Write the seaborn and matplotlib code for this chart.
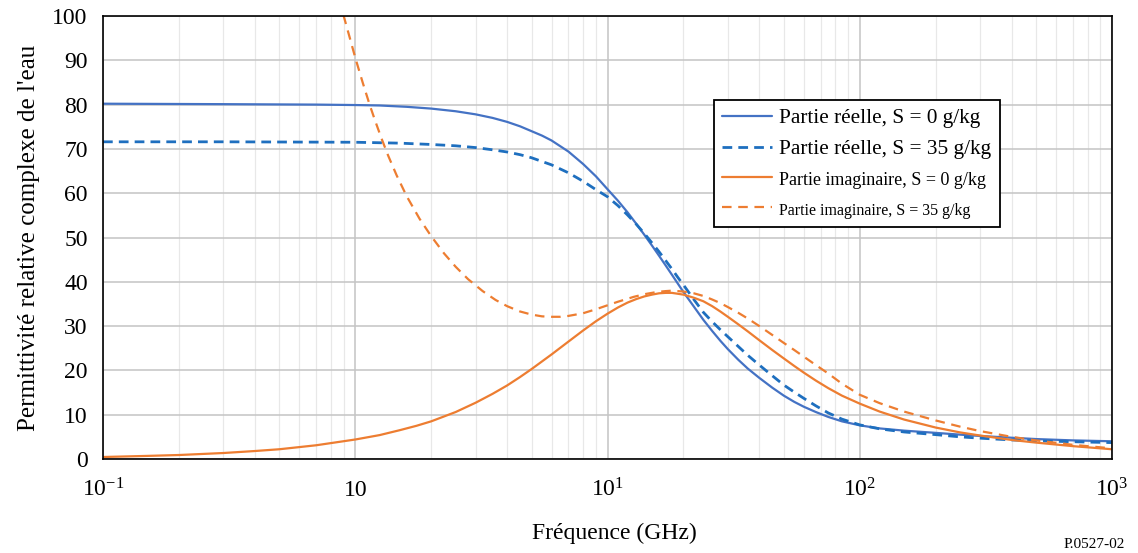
import matplotlib
matplotlib.use("Agg")
import matplotlib.pyplot as plt
import seaborn as sns
import numpy as np
from matplotlib.ticker import FixedLocator, FixedFormatter, LogLocator, NullFormatter, MultipleLocator

# ---------------- data ----------------
freq_real_s0 = [0.1, 0.3, 0.7, 1.0, 1.25, 1.6, 2.0, 2.5, 3.0, 3.5, 4.0, 4.5, 5.0, 5.5, 6.0, 7.0,
                8.0, 9.0, 10, 11, 12, 13, 14, 15, 16, 17, 18, 19, 20, 22, 24, 26, 28, 30, 33,
                36, 40, 45, 50, 55, 60, 67, 75, 85, 100, 120, 150, 200, 250, 300, 400, 500,
                700, 1000]
real_s0 = [80.2, 80.1, 80.0, 79.9, 79.8, 79.5, 79.1, 78.5, 77.8, 77.0, 76.1, 75.1, 74.0, 73.0,
           71.9, 69.4, 66.6, 63.8, 60.9, 58.3, 55.7, 53.1, 50.6, 48.2, 45.9, 43.7, 41.6, 39.6,
           37.7, 34.4, 31.4, 28.9, 26.7, 24.8, 22.4, 20.4, 18.3, 16.1, 14.3, 12.9, 11.8, 10.6,
           9.5, 8.5, 7.6, 6.9, 6.4, 5.9, 5.5, 5.2, 4.8, 4.5, 4.2, 4.0]

freq_real_s35 = [0.1, 0.3, 1.0, 1.5, 2.0, 2.5, 3.0, 3.5, 4.0, 4.5, 5.0, 6.0, 7.0, 8.0, 9.0, 10,
                 11, 12, 13, 14, 15, 16, 17, 18, 19, 20, 22, 24, 26, 28, 30, 33, 36, 40, 45,
                 50, 55, 60, 67, 75, 85, 100, 120, 150, 200, 250, 300, 400, 500, 700, 1000]
real_s35 = [71.6, 71.6, 71.5, 71.3, 71.0, 70.7, 70.3, 69.8, 69.3, 68.7, 68.0, 66.4, 64.6, 62.7,
            60.8, 59.2, 57.2, 55.1, 53.0, 50.9, 48.8, 46.8, 44.8, 42.9, 41.0, 39.3, 36.0, 33.1,
            31.0, 29.2, 27.6, 25.4, 23.4, 21.2, 18.8, 16.7, 15.1, 13.7, 12.0, 10.4, 9.0, 7.7,
            6.8, 6.1, 5.5, 5.0, 4.7, 4.3, 4.1, 3.9, 3.7]

freq_imag_s0 = [0.1, 0.15, 0.2, 0.3, 0.4, 0.5, 0.7, 1.0, 1.25, 1.5, 1.75, 2.0, 2.5, 3.0, 3.5,
                4.0, 4.5, 5.0, 6.0, 7.0, 8.0, 9.0, 10, 11, 12, 13, 14, 15, 16, 17, 18, 19, 20,
                22, 24, 26, 28, 30, 33, 36, 40, 45, 50, 55, 60, 67, 75, 85, 100, 120, 150, 200,
                250, 300, 400, 500, 700, 1000]
imag_s0 = [0.45, 0.7, 0.9, 1.35, 1.8, 2.2, 3.1, 4.4, 5.4, 6.5, 7.5, 8.5, 10.6, 12.7, 14.7, 16.6,
           18.5, 20.3, 23.6, 26.5, 29.0, 31.1, 32.8, 34.2, 35.3, 36.1, 36.7, 37.1, 37.4, 37.5,
           37.5, 37.3, 37.1, 36.4, 35.6, 34.5, 33.3, 32.1, 30.4, 28.8, 26.8, 24.6, 22.7, 21.0,
           19.5, 17.7, 16.0, 14.3, 12.5, 10.7, 8.9, 7.1, 6.0, 5.3, 4.3, 3.7, 2.9, 2.2]

freq_imag_s35 = [0.8, 0.85, 0.9, 0.95, 1.0, 1.07, 1.14, 1.2, 1.27, 1.35, 1.46, 1.6, 1.8, 2.0,
                 2.25, 2.5, 2.8, 3.2, 3.6, 4.0, 4.5, 5.0, 5.5, 6.0, 6.5, 7.0, 8.0, 9.0, 10, 11,
                 12.7, 14, 15.7, 17, 18, 19, 20, 22, 24, 26, 28, 30, 33, 36, 40, 45, 50, 55, 60,
                 67, 75, 85, 100, 120, 150, 200, 250, 300, 400, 500, 700, 1000]
imag_s35 = [112, 106, 100, 95.2, 90.6, 85.0, 80.0, 76.3, 72.4, 68.5, 64.0, 59.3, 54.2, 50.3,
            46.4, 43.4, 40.6, 37.9, 35.9, 34.5, 33.3, 32.6, 32.2, 32.1, 32.1, 32.3, 32.9, 33.8,
            34.7, 35.5, 36.6, 37.2, 37.7, 37.9, 38.0, 37.9, 37.8, 37.4, 36.8, 36.0, 35.2, 34.3,
            33.0, 31.7, 30.0, 28.0, 26.2, 24.6, 23.1, 21.2, 19.3, 17.0, 14.5, 12.6, 10.7, 8.7,
            7.3, 6.3, 5.0, 4.2, 3.2, 2.4]

legend_labels = ["Partie réelle, S = 0 g/kg", "Partie réelle, S = 35 g/kg",
                 "Partie imaginaire, S = 0 g/kg", "Partie imaginaire, S = 35 g/kg"]
x_tick_values = [0.1, 1, 10, 100, 1000]
x_tick_labels = [r"$10^{-1}$", "10", r"$10^{1}$", r"$10^{2}$", r"$10^{3}$"]
y_tick_values = [0, 10, 20, 30, 40, 50, 60, 70, 80, 90, 100]
x_label = "Fréquence (GHz)"
y_label = "Permittivité relative complexe de l'eau"
figure_code = "P.0527-02"

# ---------------- style ----------------
sns.set_theme(style="white")
plt.rcParams["font.family"] = ["Liberation Serif", "DejaVu Serif"]
plt.rcParams["mathtext.fontset"] = "custom"
plt.rcParams["mathtext.rm"] = "Liberation Serif"
plt.rcParams["mathtext.it"] = "Liberation Serif:italic"
plt.rcParams["mathtext.bf"] = "Liberation Serif:bold"
plt.rcParams["text.color"] = "black"
plt.rcParams["axes.labelcolor"] = "black"

W, H = 1138, 553
fig = plt.figure(figsize=(W / 100, H / 100), dpi=100)
ax = fig.add_axes([103 / W, 1 - 459 / H, (1112 - 103) / W, (459 - 16) / H])

blue = "#4472C4"
blue2 = "#1E6FBF"
orange = "#ED7D31"

sns.lineplot(x=freq_real_s0, y=real_s0, ax=ax, color=blue, lw=1.6,
             estimator=None, sort=False, label=legend_labels[0])
sns.lineplot(x=freq_real_s35, y=real_s35, ax=ax, color=blue2, lw=2.0,
             estimator=None, sort=False, label=legend_labels[1])
ax.lines[-1].set_dashes((3.5, 2.2))
sns.lineplot(x=freq_imag_s0, y=imag_s0, ax=ax, color=orange, lw=1.6,
             estimator=None, sort=False, label=legend_labels[2])
sns.lineplot(x=freq_imag_s35, y=imag_s35, ax=ax, color=orange, lw=1.6,
             estimator=None, sort=False, label=legend_labels[3])
ax.lines[-1].set_dashes((4.3, 3.0))

ax.set_xscale("log")
ax.set_xlim(0.1, 1000)
ax.set_ylim(0, 100)

ax.xaxis.set_major_locator(FixedLocator(x_tick_values))
ax.xaxis.set_major_formatter(FixedFormatter(x_tick_labels))
ax.xaxis.set_minor_locator(LogLocator(base=10, subs=np.arange(2, 10), numticks=30))
ax.xaxis.set_minor_formatter(NullFormatter())
ax.yaxis.set_major_locator(FixedLocator(y_tick_values))
ax.yaxis.set_minor_locator(MultipleLocator(2))

ax.set_axisbelow(True)
ax.grid(which="major", axis="both", color="#C4C4C4", lw=1.1)
ax.grid(which="minor", axis="x", color="#E8E8E8", lw=0.9)

ax.tick_params(axis="both", which="both", direction="in", colors="black",
               labelsize=17, width=1.1)
ax.tick_params(axis="x", which="both", length=5, pad=27)
ax.tick_params(axis="y", which="major", length=6, pad=11)
ax.tick_params(axis="y", which="minor", length=4)
for lbl in ax.get_xticklabels():
    lbl.set_va("baseline")

for s in ax.spines.values():
    s.set_color("black")
    s.set_linewidth(1.2)
    s.set_visible(True)

ax.set_xlabel(x_label, fontsize=17, labelpad=16)
ax.xaxis.set_label_coords((614 - 103) / (1112 - 103), -0.145)
ax.xaxis.label.set_va("top")
ax.set_ylabel(y_label, fontsize=18, labelpad=9)

handles, labels = ax.get_legend_handles_labels()
leg = ax.legend(handles, labels, loc="upper left",
                bbox_to_anchor=(714 / W, 1 - 100 / H), bbox_transform=fig.transFigure,
                borderaxespad=0, frameon=True, fancybox=False, framealpha=1,
                edgecolor="black", fontsize=15.5, handlelength=2.3,
                handletextpad=0.35, labelspacing=0.5, borderpad=0.38)
leg.get_frame().set_linewidth(1.3)
for t, s in zip(leg.get_texts(), [15.3, 15.3, 13.0, 11.5]):
    t.set_fontsize(s)

fig.text(1125 / W, 1 - 548 / H, figure_code, ha="right", va="baseline", fontsize=11)

fig.savefig("out.png", dpi=100, facecolor="white")
